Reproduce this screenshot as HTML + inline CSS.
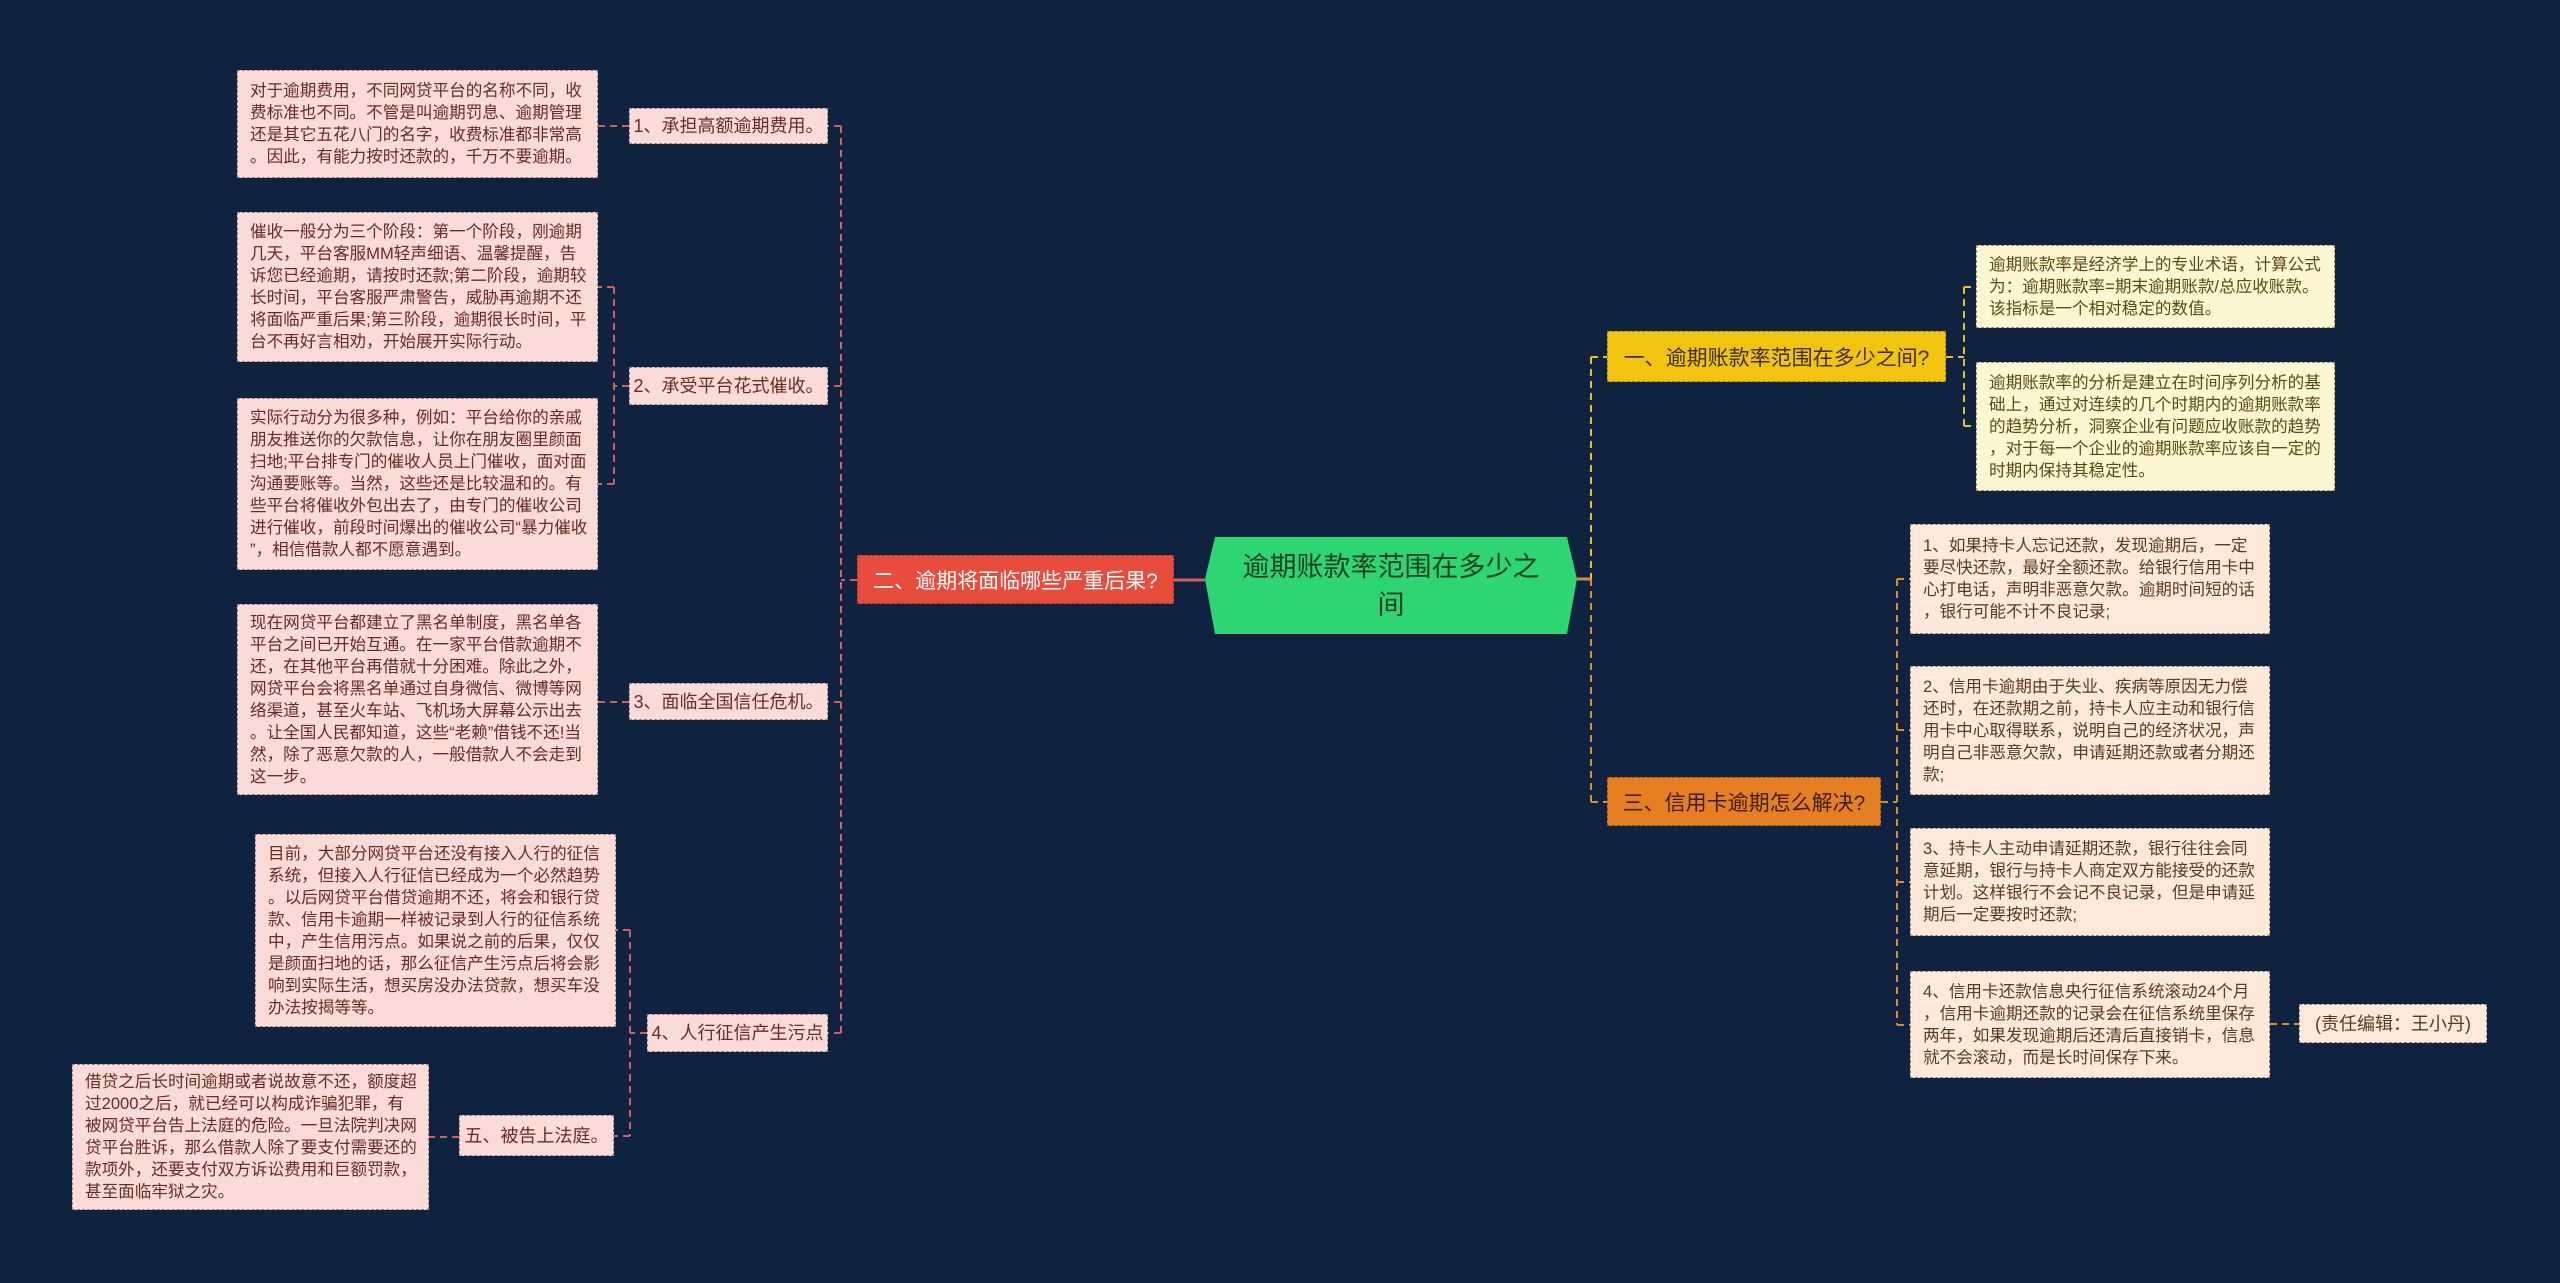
<!DOCTYPE html>
<html><head><meta charset="utf-8"><style>
body{margin:0;width:2560px;height:1283px;background:#0f2341;position:relative;overflow:hidden;font-family:"Liberation Sans","Noto Sans CJK SC",sans-serif}
.n{position:absolute;box-sizing:border-box;display:flex;align-items:center}
.leaf{font-size:16.6px;line-height:22px;padding:0 8px 0 12px;border:1px dashed #a08080;line-break:anywhere;word-break:break-all}
.p{background:#fadbd8;color:#6b2a22}
.y{background:#fdf6d3;color:#5b4a12;border-color:#a09050}
.o{background:#fde9d9;color:#5a3a1e;border-color:#a08060}
.mid{font-size:18px;justify-content:center;white-space:nowrap;padding:0}
svg{position:absolute;left:0;top:0}
</style></head><body>
<svg width="2560" height="1283">
<g fill="none" stroke-width="2" stroke-dasharray="7,5">
<g stroke="#d0605a">
<line x1="857" y1="580" x2="841" y2="580"/>
<line x1="841" y1="126" x2="841" y2="1033"/>
<line x1="841" y1="126" x2="828" y2="126"/>
<line x1="841" y1="386" x2="828" y2="386"/>
<line x1="841" y1="702" x2="828" y2="702"/>
<line x1="841" y1="1033" x2="828" y2="1033"/>
<line x1="629" y1="126" x2="598" y2="126"/>
<line x1="629" y1="386" x2="614" y2="386"/>
<line x1="614" y1="287" x2="614" y2="484"/>
<line x1="614" y1="287" x2="598" y2="287"/>
<line x1="614" y1="484" x2="598" y2="484"/>
<line x1="629" y1="702" x2="598" y2="702"/>
<line x1="647" y1="1033" x2="630" y2="1033"/>
<line x1="630" y1="930" x2="630" y2="1136"/>
<line x1="630" y1="930" x2="616" y2="930"/>
<line x1="630" y1="1136" x2="614" y2="1136"/>
<line x1="459" y1="1137" x2="429" y2="1137"/>
</g>
<g stroke="#e8c020">
<line x1="1591" y1="357" x2="1591" y2="579"/>
<line x1="1591" y1="357" x2="1607" y2="357"/>
<line x1="1946" y1="357" x2="1964" y2="357"/>
<line x1="1964" y1="287" x2="1964" y2="426"/>
<line x1="1964" y1="287" x2="1976" y2="287"/>
<line x1="1964" y1="426" x2="1976" y2="426"/>
</g>
<g stroke="#e08a30">
<line x1="1591" y1="579" x2="1591" y2="802"/>
<line x1="1591" y1="802" x2="1607" y2="802"/>
<line x1="1881" y1="802" x2="1897" y2="802"/>
<line x1="1897" y1="579" x2="1897" y2="1025"/>
<line x1="1897" y1="579" x2="1910" y2="579"/>
<line x1="1897" y1="730" x2="1910" y2="730"/>
<line x1="1897" y1="882" x2="1910" y2="882"/>
<line x1="1897" y1="1025" x2="1910" y2="1025"/>
<line x1="2270" y1="1024" x2="2299" y2="1024"/>
</g>
</g>
<line x1="1174" y1="580" x2="1205" y2="580" stroke="#d0605a" stroke-width="3"/>
<line x1="1577" y1="579" x2="1591" y2="579" stroke="#e08a30" stroke-width="3"/>
<polygon points="1205,579 1215,537 1567,537 1577,579 1567,634 1215,634" fill="#2ed573"/>
</svg>
<div class="n" style="left:1215px;top:537px;width:352px;height:97px;justify-content:center;text-align:center;font-size:27px;line-height:38px;color:#14401f">逾期账款率范围在多少之<br>间</div>
<div class="n mid" style="left:857px;top:555px;width:317px;height:49px;background:#e74c3c;color:#fff;font-size:21px;border:1px dashed #a03028">二、逾期将面临哪些严重后果?</div>
<div class="n mid" style="left:1607px;top:331px;width:339px;height:51px;background:#f1c40f;color:#3a2e08;font-size:21px;border:1px dashed #a08010">一、逾期账款率范围在多少之间?</div>
<div class="n mid" style="left:1607px;top:777px;width:274px;height:49px;background:#e67e22;color:#3a1e08;font-size:21px;border:1px dashed #904a10">三、信用卡逾期怎么解决?</div>

<div class="n leaf p mid" style="left:629px;top:108px;width:199px;height:36px">1、承担高额逾期费用。</div>
<div class="n leaf p mid" style="left:629px;top:367px;width:199px;height:38px">2、承受平台花式催收。</div>
<div class="n leaf p mid" style="left:629px;top:683px;width:199px;height:37px">3、面临全国信任危机。</div>
<div class="n leaf p mid" style="left:647px;top:1014px;width:181px;height:38px">4、人行征信产生污点</div>
<div class="n leaf p mid" style="left:459px;top:1115px;width:155px;height:41px">五、被告上法庭。</div>

<div class="n leaf p" style="left:237px;top:70px;width:361px;height:108px">对于逾期费用，不同网贷平台的名称不同，收费标准也不同。不管是叫逾期罚息、逾期管理还是其它五花八门的名字，收费标准都非常高。因此，有能力按时还款的，千万不要逾期。</div>
<div class="n leaf p" style="left:237px;top:212px;width:361px;height:150px">催收一般分为三个阶段：第一个阶段，刚逾期几天，平台客服MM轻声细语、温馨提醒，告诉您已经逾期，请按时还款;第二阶段，逾期较长时间，平台客服严肃警告，威胁再逾期不还将面临严重后果;第三阶段，逾期很长时间，平台不再好言相劝，开始展开实际行动。</div>
<div class="n leaf p" style="left:237px;top:398px;width:361px;height:172px">实际行动分为很多种，例如：平台给你的亲戚朋友推送你的欠款信息，让你在朋友圈里颜面扫地;平台排专门的催收人员上门催收，面对面沟通要账等。当然，这些还是比较温和的。有些平台将催收外包出去了，由专门的催收公司进行催收，前段时间爆出的催收公司“暴力催收”，相信借款人都不愿意遇到。</div>
<div class="n leaf p" style="left:237px;top:604px;width:361px;height:191px">现在网贷平台都建立了黑名单制度，黑名单各平台之间已开始互通。在一家平台借款逾期不还，在其他平台再借就十分困难。除此之外，网贷平台会将黑名单通过自身微信、微博等网络渠道，甚至火车站、飞机场大屏幕公示出去。让全国人民都知道，这些“老赖”借钱不还!当然，除了恶意欠款的人，一般借款人不会走到这一步。</div>
<div class="n leaf p" style="left:255px;top:834px;width:361px;height:193px">目前，大部分网贷平台还没有接入人行的征信系统，但接入人行征信已经成为一个必然趋势。以后网贷平台借贷逾期不还，将会和银行贷款、信用卡逾期一样被记录到人行的征信系统中，产生信用污点。如果说之前的后果，仅仅是颜面扫地的话，那么征信产生污点后将会影响到实际生活，想买房没办法贷款，想买车没办法按揭等等。</div>
<div class="n leaf p" style="left:72px;top:1064px;width:357px;height:146px">借贷之后长时间逾期或者说故意不还，额度超过2000之后，就已经可以构成诈骗犯罪，有被网贷平台告上法庭的危险。一旦法院判决网贷平台胜诉，那么借款人除了要支付需要还的款项外，还要支付双方诉讼费用和巨额罚款，甚至面临牢狱之灾。</div>

<div class="n leaf y" style="left:1976px;top:245px;width:359px;height:83px">逾期账款率是经济学上的专业术语，计算公式为：逾期账款率=期末逾期账款/总应收账款。该指标是一个相对稳定的数值。</div>
<div class="n leaf y" style="left:1976px;top:362px;width:359px;height:129px">逾期账款率的分析是建立在时间序列分析的基础上，通过对连续的几个时期内的逾期账款率的趋势分析，洞察企业有问题应收账款的趋势，对于每一个企业的逾期账款率应该自一定的时期内保持其稳定性。</div>

<div class="n leaf o" style="left:1910px;top:524px;width:360px;height:110px">1、如果持卡人忘记还款，发现逾期后，一定要尽快还款，最好全额还款。给银行信用卡中心打电话，声明非恶意欠款。逾期时间短的话，银行可能不计不良记录;</div>
<div class="n leaf o" style="left:1910px;top:666px;width:360px;height:129px">2、信用卡逾期由于失业、疾病等原因无力偿还时，在还款期之前，持卡人应主动和银行信用卡中心取得联系，说明自己的经济状况，声明自己非恶意欠款，申请延期还款或者分期还款;</div>
<div class="n leaf o" style="left:1910px;top:828px;width:360px;height:108px">3、持卡人主动申请延期还款，银行往往会同意延期，银行与持卡人商定双方能接受的还款计划。这样银行不会记不良记录，但是申请延期后一定要按时还款;</div>
<div class="n leaf o" style="left:1910px;top:971px;width:360px;height:107px">4、信用卡还款信息央行征信系统滚动24个月，信用卡逾期还款的记录会在征信系统里保存两年，如果发现逾期后还清后直接销卡，信息就不会滚动，而是长时间保存下来。</div>
<div class="n leaf o mid" style="left:2299px;top:1004px;width:188px;height:39px">(责任编辑：王小丹)</div>
</body></html>
